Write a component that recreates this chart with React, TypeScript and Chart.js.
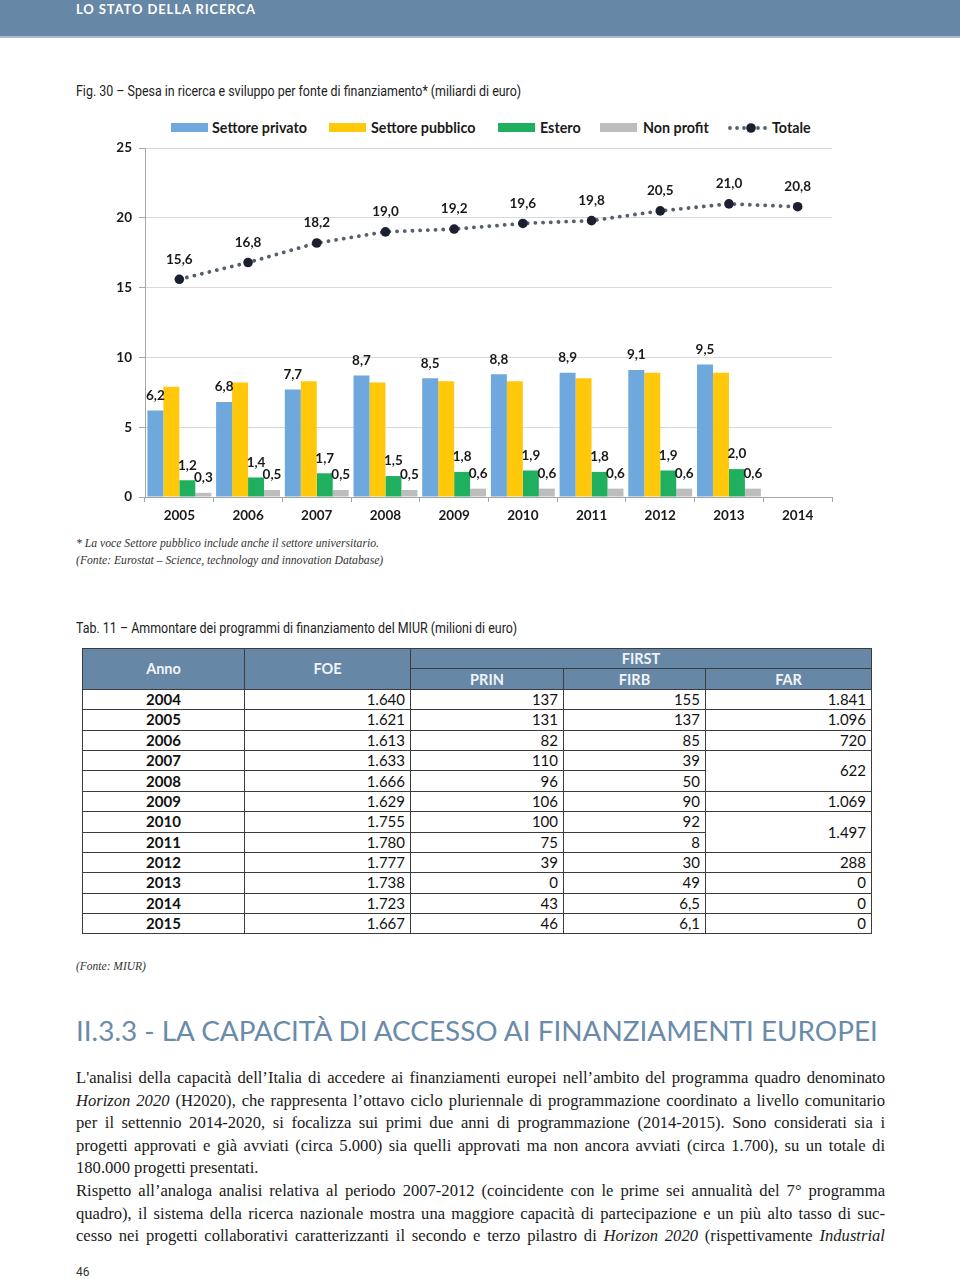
import React, { useEffect, useRef } from "react";
import { Chart, registerables } from "chart.js";
Chart.register(...registerables);

const years = ["2005", "2006", "2007", "2008", "2009", "2010", "2011", "2012", "2013", "2014"];
const privato = [6.2, 6.8, 7.7, 8.7, 8.5, 8.8, 8.9, 9.1, 9.5, null];
const pubblico = [7.9, 8.2, 8.3, 8.2, 8.3, 8.3, 8.5, 8.9, 8.9, null];
const estero = [1.2, 1.4, 1.7, 1.5, 1.8, 1.9, 1.8, 1.9, 2.0, null];
const nonProfit = [0.3, 0.5, 0.5, 0.5, 0.6, 0.6, 0.6, 0.6, 0.6, null];
const totale = [15.6, 16.8, 18.2, 19.0, 19.2, 19.6, 19.8, 20.5, 21.0, 20.8];
const yTicks = [0, 5, 10, 15, 20, 25];

const tabAnni = ["2004", "2005", "2006", "2007", "2008", "2009", "2010", "2011", "2012", "2013", "2014", "2015"];
const tabFoe = ["1.640", "1.621", "1.613", "1.633", "1.666", "1.629", "1.755", "1.780", "1.777", "1.738", "1.723", "1.667"];
const tabPrin = ["137", "131", "82", "110", "96", "106", "100", "75", "39", "0", "43", "46"];
const tabFirb = ["155", "137", "85", "39", "50", "90", "92", "8", "30", "49", "6,5", "6,1"];
const tabFar = ["1.841", "1.096", "720", "622", null, "1.069", "1.497", null, "288", "0", "0", "0"];
const tabFarSpan = [1, 1, 1, 2, 0, 1, 2, 0, 1, 1, 1, 1];

const C_BLUE = "#6FA8DC";
const C_YELLOW = "#FFC80A";
const C_GREEN = "#1FAF5F";
const C_GRAY = "#BDBDBD";
const C_HEAD = "#6687A5";

const labelOffsets: Record<string, number> = {
  "Totale": 20,
  "Settore privato": 15,
  "Estero": 15,
  "Non profit": 15,
};

const labelPlugin = {
  id: "valueLabels",
  afterDatasetsDraw(chart: any) {
    const ctx = chart.ctx;
    ctx.save();
    ctx.font = "bold 13.5px Lato";
    ctx.fillStyle = "#1a1a1a";
    ctx.textAlign = "center";
    ctx.textBaseline = "middle";
    chart.data.datasets.forEach((ds: any, i: number) => {
      const off = labelOffsets[ds.label];
      if (!off) return;
      const meta = chart.getDatasetMeta(i);
      meta.data.forEach((el: any, j: number) => {
        const v = ds.data[j];
        if (v == null) return;
        ctx.fillText(v.toFixed(1).replace(".", ","), el.x, el.y - off);
      });
    });
    ctx.restore();
  },
};

function BarChart() {
  const ref = useRef<HTMLCanvasElement>(null);
  useEffect(() => {
    const chart = new Chart(ref.current as HTMLCanvasElement, {
      type: "bar",
      data: {
        labels: years,
        datasets: [
          {
            type: "line",
            label: "Totale",
            data: totale,
            borderColor: "#56606D",
            borderWidth: 3.8,
            borderDash: [0.1, 7.6],
            borderCapStyle: "round",
            pointRadius: 4.8,
            pointBackgroundColor: "#1B2030",
            pointBorderColor: "#1B2030",
            pointBorderWidth: 0,
            tension: 0,
            fill: false,
            order: 0,
          } as any,
          { label: "Settore privato", data: privato, backgroundColor: C_BLUE, order: 1 },
          { label: "Settore pubblico", data: pubblico, backgroundColor: C_YELLOW, order: 1 },
          { label: "Estero", data: estero, backgroundColor: C_GREEN, order: 1 },
          { label: "Non profit", data: nonProfit, backgroundColor: C_GRAY, order: 1 },
        ],
      },
      options: {
        responsive: false,
        animation: false,
        layout: { padding: { top: 10, right: 28, bottom: 6, left: 0 } },
        datasets: { bar: { categoryPercentage: 0.93, barPercentage: 1 } },
        plugins: { legend: { display: false }, tooltip: { enabled: false } },
        scales: {
          x: {
            offset: true,
            grid: { display: true, drawOnChartArea: false, drawTicks: true, tickLength: 5, tickColor: "#A6A6A6", offset: true },
            border: { display: true, color: "#A6A6A6" },
            ticks: { padding: 6, color: "#1a1a1a", font: { family: "Lato", size: 13.5, weight: "bold" } },
            afterFit: (s: any) => { s.height = 30; },
          },
          y: {
            min: 0,
            max: 25,
            afterBuildTicks: (s: any) => { s.ticks = yTicks.map((v) => ({ value: v })); },
            grid: { color: "#D9D9D9", tickLength: 6, tickColor: "#A6A6A6" },
            border: { display: true, color: "#A6A6A6" },
            ticks: { padding: 7, color: "#1a1a1a", font: { family: "Lato", size: 13.5, weight: "bold" } },
            afterFit: (s: any) => { s.width = 55; },
          },
        },
      } as any,
      plugins: [labelPlugin],
    });
    return () => chart.destroy();
  }, []);
  return (
    <canvas
      ref={ref}
      width={770}
      height={400}
      style={{ position: "absolute", left: 90, top: 133, width: 770, height: 400 }}
    />
  );
}

const legendItems = [
  { label: "Settore privato", color: C_BLUE, box: 171, text: 212 },
  { label: "Settore pubblico", color: C_YELLOW, box: 329, text: 371 },
  { label: "Estero", color: C_GREEN, box: 498, text: 540 },
  { label: "Non profit", color: C_GRAY, box: 600, text: 643 },
];

function Legend() {
  const txt: React.CSSProperties = {
    position: "absolute",
    top: 119,
    height: 18,
    lineHeight: "18px",
    fontFamily: "Lato",
    fontWeight: 700,
    fontSize: 14.3,
    color: "#1a1a1a",
    whiteSpace: "nowrap",
  };
  return (
    <>
      {legendItems.map((it) => (
        <React.Fragment key={it.label}>
          <div style={{ position: "absolute", left: it.box, top: 123, width: 37, height: 9, background: it.color }} />
          <div style={{ ...txt, left: it.text }}>{it.label}</div>
        </React.Fragment>
      ))}
      <svg style={{ position: "absolute", left: 727, top: 120 }} width={44} height={16}>
        {[3, 10, 17, 31, 38].map((x) => (
          <circle key={x} cx={x} cy={8} r={1.9} fill="#56606D" />
        ))}
        <circle cx={24} cy={8} r={4.8} fill="#1B2030" />
      </svg>
      <div style={{ ...txt, left: 772 }}>Totale</div>
    </>
  );
}

function Table() {
  const bd = "1px solid #3c3c3c";
  const th: React.CSSProperties = {
    background: C_HEAD,
    color: "#F2F4F7",
    fontWeight: 700,
    fontSize: 14.5,
    textAlign: "center",
    border: bd,
    padding: 0,
    height: 19.4,
    lineHeight: "19px",
  };
  const td: React.CSSProperties = {
    border: bd,
    padding: "0 5px 0 0",
    textAlign: "right",
    fontSize: 15,
    height: 19.4,
    lineHeight: "19px",
    color: "#111",
  };
  return (
    <table
      style={{
        position: "absolute",
        left: 82,
        top: 648,
        width: 789,
        borderCollapse: "collapse",
        tableLayout: "fixed",
        fontFamily: "Lato",
      }}
    >
      <colgroup>
        <col style={{ width: 162 }} />
        <col style={{ width: 166 }} />
        <col style={{ width: 153 }} />
        <col style={{ width: 142 }} />
        <col style={{ width: 166 }} />
      </colgroup>
      <thead>
        <tr>
          <th rowSpan={2} style={th}>Anno</th>
          <th rowSpan={2} style={th}>FOE</th>
          <th colSpan={3} style={th}>FIRST</th>
        </tr>
        <tr>
          <th style={th}>PRIN</th>
          <th style={th}>FIRB</th>
          <th style={th}>FAR</th>
        </tr>
      </thead>
      <tbody>
        {tabAnni.map((a, i) => (
          <tr key={a}>
            <td style={{ ...td, textAlign: "center", padding: 0, fontWeight: 700 }}>{a}</td>
            <td style={td}>{tabFoe[i]}</td>
            <td style={td}>{tabPrin[i]}</td>
            <td style={td}>{tabFirb[i]}</td>
            {tabFarSpan[i] > 0 && (
              <td style={td} rowSpan={tabFarSpan[i]}>{tabFar[i]}</td>
            )}
          </tr>
        ))}
      </tbody>
    </table>
  );
}

const paraLines: { html: React.ReactNode; last?: boolean }[] = [
  { html: <>L'analisi della capacità dell’Italia di accedere ai finanziamenti europei nell’ambito del programma quadro denominato</> },
  { html: <><i>Horizon 2020</i> (H2020), che rappresenta l’ottavo ciclo pluriennale di programmazione coordinato a livello comunitario</> },
  { html: <>per il settennio 2014-2020, si focalizza sui primi due anni di programmazione (2014-2015). Sono considerati sia i</> },
  { html: <>progetti approvati e già avviati (circa 5.000) sia quelli approvati ma non ancora avviati (circa 1.700), su un totale di</> },
  { html: <>180.000 progetti presentati.</>, last: true },
  { html: <>Rispetto all’analoga analisi relativa al periodo 2007-2012 (coincidente con le prime sei annualità del 7° programma</> },
  { html: <>quadro), il sistema della ricerca nazionale mostra una maggiore capacità di partecipazione e un più alto tasso di suc-</> },
  { html: <>cesso nei progetti collaborativi caratterizzanti il secondo e terzo pilastro di <i>Horizon 2020</i> (rispettivamente <i>Industrial</i></> },
];

export default function App() {
  const caption: React.CSSProperties = {
    position: "absolute",
    left: 76,
    fontFamily: "Roboto",
    fontSize: 14,
    color: "#222",
    whiteSpace: "nowrap",
    transform: "scaleX(0.888)",
    transformOrigin: "left center",
    lineHeight: "18px",
  };
  const note: React.CSSProperties = {
    position: "absolute",
    left: 76,
    fontFamily: "Liberation Serif",
    fontStyle: "italic",
    fontSize: 11.7,
    color: "#333",
    whiteSpace: "nowrap",
    lineHeight: "16px",
  };
  return (
    <div style={{ position: "absolute", left: 0, top: 0, width: 960, height: 1279, background: "#fff", overflow: "hidden" }}>
      <div style={{ position: "absolute", left: 0, top: 0, width: 960, height: 36, background: C_HEAD, borderBottom: "2px solid #A9BCCE" }} />
      <div
        style={{
          position: "absolute",
          left: 76,
          top: 1,
          fontFamily: "Lato",
          fontWeight: 700,
          fontSize: 13,
          letterSpacing: 0.9,
          color: "#fff",
          lineHeight: "16px",
          whiteSpace: "nowrap",
        }}
      >
        LO STATO DELLA RICERCA
      </div>

      <div style={{ ...caption, top: 82 }}>
        Fig. 30 – Spesa in ricerca e sviluppo per fonte di finanziamento* (miliardi di euro)
      </div>

      <Legend />
      <BarChart />

      <div style={{ ...note, top: 536 }}>* La voce Settore pubblico include anche il settore universitario.</div>
      <div style={{ ...note, top: 553 }}>(Fonte: Eurostat – Science, technology and innovation Database)</div>

      <div style={{ ...caption, top: 619 }}>
        Tab. 11 – Ammontare dei programmi di finanziamento del MIUR (milioni di euro)
      </div>

      <Table />

      <div style={{ ...note, top: 958, fontSize: 11.5 }}>(Fonte: MIUR)</div>

      <div
        style={{
          position: "absolute",
          left: 76,
          top: 1012,
          fontFamily: "Lato",
          fontSize: 27.9,
          color: "#6A8BAA",
          whiteSpace: "nowrap",
          lineHeight: "36px",
        }}
      >
        II.3.3 - LA CAPACITÀ DI ACCESSO AI FINANZIAMENTI EUROPEI
      </div>

      {paraLines.map((l, i) => (
        <div
          key={i}
          style={{
            position: "absolute",
            left: 76,
            top: 1066 + i * 22.6,
            width: 809,
            fontFamily: "Liberation Serif",
            fontSize: 16.6,
            color: "#1a1a1a",
            lineHeight: "24px",
            whiteSpace: "nowrap",
            textAlign: l.last ? "left" : "justify",
            textAlignLast: l.last ? "left" : "justify",
          }}
        >
          {l.html}
        </div>
      ))}

      <div style={{ position: "absolute", left: 76, top: 1264, fontFamily: "Roboto", fontSize: 12, color: "#333", lineHeight: "16px" }}>46</div>
    </div>
  );
}
